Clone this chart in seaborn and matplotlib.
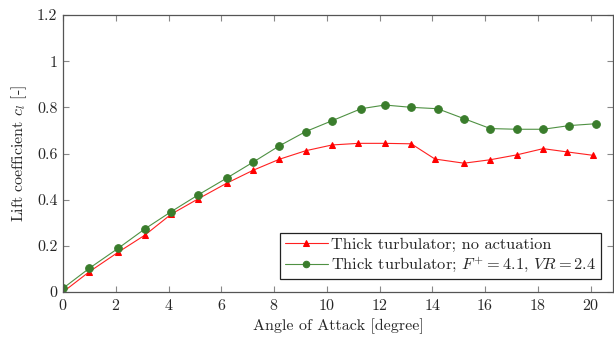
import matplotlib
matplotlib.use("Agg")
import matplotlib.pyplot as plt
import seaborn as sns
import pandas as pd

sns.set_style("ticks")
plt.rcParams['font.family'] = ['serif']
plt.rcParams['font.serif'] = ['cmr10', 'DejaVu Serif']
plt.rcParams['mathtext.fontset'] = 'cm'
plt.rcParams['axes.formatter.use_mathtext'] = True

alpha_red = [0, 1, 2.1, 3.1, 4.1, 5.1, 6.2, 7.2, 8.2, 9.2, 10.2, 11.2, 12.2, 13.2, 14.1, 15.2, 16.2, 17.2, 18.2, 19.1, 20.1]
cl_red = [0.0, 0.088, 0.173, 0.246, 0.337, 0.402, 0.471, 0.527, 0.575, 0.612, 0.637, 0.644, 0.644, 0.642, 0.576, 0.558, 0.573, 0.594, 0.621, 0.607, 0.592]
alpha_green = [0, 1, 2.1, 3.1, 4.1, 5.1, 6.2, 7.2, 8.2, 9.2, 10.2, 11.3, 12.2, 13.2, 14.2, 15.2, 16.2, 17.2, 18.2, 19.2, 20.2]
cl_green = [0.016, 0.103, 0.19, 0.273, 0.348, 0.419, 0.493, 0.562, 0.633, 0.695, 0.742, 0.794, 0.810, 0.800, 0.794, 0.751, 0.708, 0.705, 0.705, 0.721, 0.729]
label_red = "Thick turbulator; no actuation"
label_green = "Thick turbulator; $F^{+}=4.1$, $VR=2.4$"

df_red = pd.DataFrame({"alpha": alpha_red, "cl": cl_red})
df_green = pd.DataFrame({"alpha": alpha_green, "cl": cl_green})

fig = plt.figure(figsize=(6.14, 3.38), dpi=100)
ax = fig.add_axes([63/614, 46/338, (613-63)/614, (292-15)/338])

sns.lineplot(data=df_red, x="alpha", y="cl", ax=ax, color="#ff2020", marker="^",
             markersize=5, markerfacecolor="#ff0000", markeredgecolor="#ff0000",
             linewidth=0.8, label=label_red)
sns.lineplot(data=df_green, x="alpha", y="cl", ax=ax, color="#4f9143", marker="o",
             markersize=5.5, markerfacecolor="#3a7d2c", markeredgecolor="#3a7d2c",
             linewidth=0.8, label=label_green)

ax.set_xlim(0, (613-63)/26.38)
ax.set_ylim(0, 1.2)
ax.set_xticks([0, 2, 4, 6, 8, 10, 12, 14, 16, 18, 20])
ax.set_yticks([0, 0.2, 0.4, 0.6, 0.8, 1.0, 1.2])
ax.set_yticklabels(["0", "0.2", "0.4", "0.6", "0.8", "1", "1.2"])
ax.tick_params(direction="in", top=True, right=True, length=4, width=0.8,
               color="#888888", labelsize=11.5, pad=4)
for s in ax.spines.values():
    s.set_color("#555555")
    s.set_linewidth(0.9)
ax.set_xlabel("Angle of Attack [degree]", fontsize=11.5, labelpad=4)
ax.set_ylabel("Lift coefficient $c_l$ [-]", fontsize=11.5, labelpad=6)

leg = ax.legend(loc="lower right", bbox_to_anchor=(0.993, 0.016), fontsize=11.8,
                frameon=True, fancybox=False, edgecolor="#222222", framealpha=1,
                handlelength=2.6, handletextpad=0.2, borderpad=0.3, labelspacing=0.22,
                markerscale=0.85)
leg.get_frame().set_linewidth(0.9)

fig.savefig("out.png", dpi=100)
